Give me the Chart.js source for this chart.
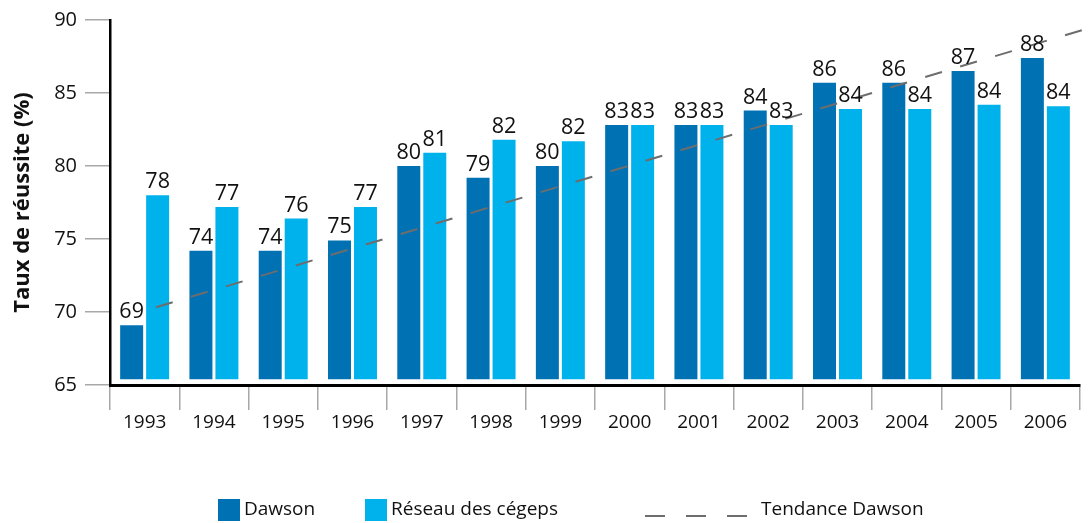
<!DOCTYPE html>
<html lang="fr">
<head>
<meta charset="UTF-8">
<title>Taux de réussite</title>
<script src="https://cdn.jsdelivr.net/npm/chart.js@4.4.1/dist/chart.umd.min.js"></script>
<style>
  html, body { margin: 0; padding: 0; background: #fff; }
  #wrap { position: relative; width: 1091px; height: 523px; }
  #legend { position: absolute; left: 0; top: 496px; width: 1091px; height: 26px;
            font-family: "Open Sans", sans-serif; font-size: 19px; color: #111; }
  .item { position: absolute; top: 0; height: 24px; line-height: 24px; white-space: nowrap; }
  .box { display: inline-block; width: 22px; height: 22px; vertical-align: middle; margin-right: 4px; }
  .dash { display: inline-block; width: 20px; height: 0; border-top: 2px solid #6d6d6d;
          vertical-align: middle; margin-right: 21px; position: relative; top: 6px; }
</style>
</head>
<body>
<div id="wrap">
  <canvas id="chart" width="1091" height="523"></canvas>
  <div id="legend">
    <div class="item" style="left:218px"><span class="box" style="background:#0071b3"></span>Dawson</div>
    <div class="item" style="left:365px"><span class="box" style="background:#00b2ec"></span>Réseau des cégeps</div>
    <div class="item" style="left:645px"><span class="dash"></span><span class="dash"></span><span class="dash" style="margin-right:14px"></span>Tendance Dawson</div>
  </div>
</div>
<script>
// données
const years = ['1993', '1994', '1995', '1996', '1997', '1998', '1999', '2000', '2001', '2002', '2003', '2004', '2005', '2006'];
const dawson = [69.1, 74.2, 74.2, 74.9, 80.0, 79.2, 80.0, 82.8, 82.8, 83.8, 85.7, 85.7, 86.5, 87.4];
const reseau = [78.0, 77.2, 76.4, 77.2, 80.9, 81.8, 81.7, 82.8, 82.8, 82.8, 83.9, 83.9, 84.2, 84.1];
const dawsonLabels = ['69', '74', '74', '75', '80', '79', '80', '83', '83', '84', '86', '86', '87', '88'];
const reseauLabels = ['78', '77', '76', '77', '81', '82', '82', '83', '83', '83', '84', '84', '84', '84'];
// tendance : extrémités de la droite (position en index de catégorie)
const trendX = [-0.1, 13.7];
const trendY = [69.95, 89.55];
const yTicks = [65, 70, 75, 80, 85, 90];

const FONT = '"Open Sans", sans-serif';
const barBase = 65.4;

// droite de tendance (pointillés) puis étiquettes au-dessus des barres
const overlay = {
  id: 'overlay',
  afterDatasetsDraw(chart) {
    const ctx = chart.ctx;
    const xs = chart.scales.x, ys = chart.scales.y;
    ctx.save();
    ctx.strokeStyle = '#6d6d6d';
    ctx.lineWidth = 2;
    ctx.setLineDash([17.5, 19]);
    ctx.lineDashOffset = 17.5;
    ctx.beginPath();
    trendX.forEach((v, i) => {
      const px = xs.getPixelForValue(v), py = ys.getPixelForValue(trendY[i]);
      if (i === 0) ctx.moveTo(px, py); else ctx.lineTo(px, py);
    });
    ctx.stroke();
    ctx.setLineDash([]);

    ctx.font = '21.5px ' + FONT;
    ctx.fillStyle = '#111';
    ctx.textAlign = 'center';
    ctx.textBaseline = 'alphabetic';
    [dawsonLabels, reseauLabels].forEach((labels, di) => {
      chart.getDatasetMeta(di).data.forEach((bar, i) => {
        ctx.fillText(labels[i], bar.x, bar.y - 7);
      });
    });
    ctx.restore();
  }
};

new Chart(document.getElementById('chart'), {
  type: 'bar',
  data: {
    labels: years,
    datasets: [
      { label: 'Dawson', data: dawson, base: barBase, backgroundColor: '#0071b3' },
      { label: 'Réseau des cégeps', data: reseau, base: barBase, backgroundColor: '#00b2ec' }
    ]
  },
  options: {
    responsive: false,
    animation: false,
    datasets: { bar: { categoryPercentage: 0.75, barPercentage: 0.885 } },
    layout: { padding: { top: 16, right: 11, left: 0, bottom: 0 } },
    plugins: {
      legend: { display: false },
      tooltip: { enabled: false }
    },
    scales: {
      x: {
        afterFit(scale) { scale.height = 138; },
        grid: {
          offset: true,
          drawOnChartArea: false,
          drawTicks: true,
          tickLength: 25,
          color: '#a8a8a8',
          lineWidth: 1.5
        },
        border: { display: true, color: '#000', width: 3 },
        ticks: { color: '#111', font: { family: FONT, size: 19 }, padding: 1 }
      },
      y: {
        min: 65,
        max: 90,
        afterFit(scale) { scale.width = 110; },
        afterBuildTicks(scale) { scale.ticks = yTicks.map(v => ({ value: v })); },
        grid: {
          drawOnChartArea: false,
          drawTicks: true,
          tickLength: 25,
          color: '#a8a8a8',
          lineWidth: 1.5
        },
        border: { display: true, color: '#000', width: 2.5 },
        ticks: { color: '#111', font: { family: FONT, size: 20 }, padding: 8 },
        title: {
          display: true,
          text: 'Taux de réussite (%)',
          color: '#111',
          font: { family: FONT, size: 22, weight: 'bold' },
          padding: { top: 10, bottom: 4 }
        }
      }
    }
  },
  plugins: [overlay]
});
</script>
</body>
</html>
